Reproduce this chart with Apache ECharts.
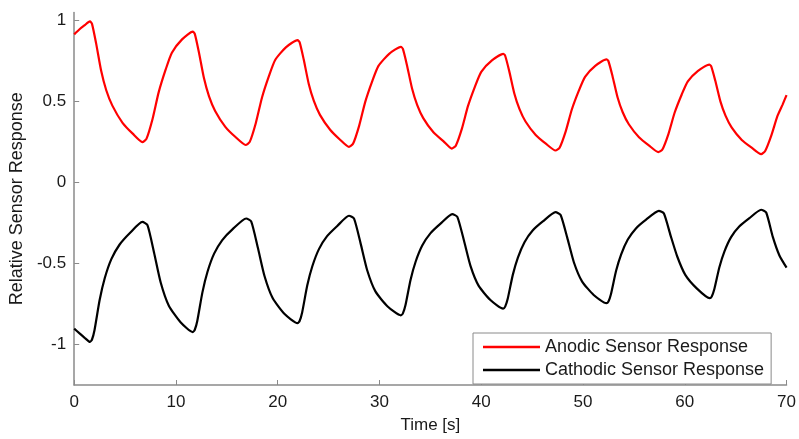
<!DOCTYPE html>
<html>
<head>
<meta charset="utf-8">
<script src="https://cdn.jsdelivr.net/npm/echarts@6/dist/echarts.min.js"></script>
<style>html,body{margin:0;padding:0;background:#fff;}#chart{width:799px;height:439px;}</style>
</head>
<body>
<div id="chart"></div>
<script>
var xTicks = [0, 10, 20, 30, 40, 50, 60, 70];
var yTicks = [-1, -0.5, 0, 0.5, 1];
var seriesNames = ['Anodic Sensor Response', 'Cathodic Sensor Response'];

var anodicTime = [
  0,0.5,1.0,1.55,1.75,2.15,2.65,3.15,3.75,4.75,5.75,6.7,7.1,7.7,8.3,9.0,9.6,10.6,11.65,
  11.85,12.25,12.75,13.25,13.85,14.85,15.85,16.85,17.25,17.85,18.45,19.15,19.75,20.8,21.95,
  22.15,22.55,23.05,23.55,24.15,25.15,26.1,27.0,27.4,28.0,28.6,29.3,29.9,30.95,32.1,
  32.3,32.7,33.2,33.7,34.3,35.3,36.3,37.1,37.5,38.1,38.7,39.4,40.0,41.05,42.15,
  42.35,42.75,43.25,43.75,44.35,45.35,46.35,47.3,47.7,48.3,48.9,49.6,50.2,51.2,52.3,
  52.5,52.9,53.4,53.9,54.5,55.5,56.5,57.4,57.8,58.4,59.0,59.7,60.3,61.3,62.4,
  62.6,63.0,63.5,64.0,64.6,65.6,66.6,67.5,67.9,68.5,69.1,69.6,70
];
var anodicValue = [
  0.915,0.945,0.97,0.995,0.98,0.861,0.69,0.57,0.475,0.369,0.302,0.25,0.27,0.393,0.557,0.70,0.802,0.884,0.932,
  0.918,0.806,0.645,0.532,0.442,0.344,0.281,0.232,0.251,0.368,0.524,0.66,0.757,0.835,0.88,
  0.867,0.761,0.609,0.504,0.418,0.326,0.266,0.22,0.239,0.35,0.498,0.628,0.72,0.795,0.838,
  0.825,0.725,0.581,0.48,0.398,0.31,0.254,0.21,0.228,0.333,0.473,0.596,0.684,0.754,0.795,
  0.783,0.688,0.55,0.455,0.377,0.294,0.24,0.198,0.215,0.316,0.451,0.569,0.653,0.721,0.76,
  0.749,0.657,0.525,0.434,0.36,0.28,0.228,0.188,0.204,0.301,0.431,0.544,0.625,0.69,0.728,
  0.717,0.628,0.501,0.413,0.341,0.263,0.214,0.175,0.195,0.29,0.41,0.48,0.54
];
var cathodicTime = [
  0,0.5,1.0,1.55,1.75,2.0,2.5,3.0,3.65,4.45,5.45,6.7,7.2,7.85,8.5,9.3,10.45,11.65,
  11.85,12.1,12.6,13.1,13.75,14.55,15.55,16.9,17.4,18.05,18.7,19.5,20.65,21.95,
  22.15,22.4,22.9,23.4,24.05,24.85,25.85,27.0,27.5,28.15,28.8,29.6,30.8,32.1,
  32.3,32.55,33.05,33.55,34.2,35.0,36.0,37.15,37.65,38.3,38.95,39.75,40.9,42.15,
  42.35,42.6,43.1,43.6,44.25,45.05,46.05,47.3,47.8,48.45,49.1,49.9,51.05,52.3,
  52.5,52.75,53.25,53.75,54.4,55.2,56.2,57.45,57.95,58.6,59.25,60.05,61.2,62.45,
  62.65,62.9,63.4,63.9,64.55,65.35,66.35,67.5,68.0,68.65,69.3,70
];
var cathodicValue = [
  -0.902,-0.93,-0.957,-0.984,-0.969,-0.91,-0.725,-0.591,-0.473,-0.384,-0.313,-0.243,-0.263,-0.433,-0.617,-0.76,-0.862,-0.923,
  -0.909,-0.853,-0.678,-0.551,-0.439,-0.355,-0.289,-0.222,-0.241,-0.403,-0.577,-0.713,-0.81,-0.868,
  -0.855,-0.802,-0.636,-0.517,-0.411,-0.331,-0.268,-0.205,-0.223,-0.377,-0.543,-0.672,-0.765,-0.82,
  -0.808,-0.758,-0.601,-0.489,-0.389,-0.314,-0.254,-0.195,-0.212,-0.358,-0.516,-0.638,-0.725,-0.778,
  -0.766,-0.718,-0.57,-0.463,-0.368,-0.296,-0.24,-0.183,-0.2,-0.34,-0.492,-0.61,-0.694,-0.745,
  -0.734,-0.688,-0.545,-0.443,-0.352,-0.283,-0.229,-0.175,-0.191,-0.326,-0.455,-0.57,-0.655,-0.714,
  -0.703,-0.659,-0.523,-0.425,-0.337,-0.272,-0.22,-0.168,-0.185,-0.335,-0.45,-0.525
];

function zip(t, v) { return t.map(function (x, i) { return [x, v[i]]; }); }

var chart = echarts.init(document.getElementById('chart'), null, {renderer: 'canvas'});
var font = 'Liberation Sans, Arial, sans-serif';
var axisColor = '#8a8a8a';
var textColor = '#1a1a1a';

chart.setOption({
  animation: false,
  backgroundColor: '#fff',
  grid: {left: 71, right: 12, top: 12.5, bottom: 49, containLabel: false},
  legend: {
    orient: 'vertical',
    left: 473,
    top: 333,
    padding: [5, 7, 5, 10],
    itemGap: 5,
    itemWidth: 57,
    itemHeight: 2.5,
    icon: 'rect',
    borderColor: '#8a8a8a',
    borderWidth: 1,
    borderRadius: 0,
    backgroundColor: '#fff',
    textStyle: {fontFamily: font, fontSize: 18, color: textColor},
    data: seriesNames
  },
  xAxis: {
    type: 'value',
    min: 0, max: 70, interval: 10,
    name: 'Time [s]',
    nameLocation: 'middle',
    nameGap: 32,
    nameTextStyle: {fontFamily: font, fontSize: 17, color: textColor},
    axisLine: {show: true, onZero: false, lineStyle: {color: axisColor, width: 1.5}},
    axisTick: {show: true, inside: true, length: 5, lineStyle: {color: axisColor}},
    axisLabel: {fontFamily: font, fontSize: 17, color: textColor, margin: 9},
    splitLine: {show: false}
  },
  yAxis: {
    type: 'value',
    min: -1.25, max: 1.05,
    name: 'Relative Sensor Response',
    nameLocation: 'middle',
    nameGap: 42,
    nameTextStyle: {fontFamily: font, fontSize: 18, color: textColor},
    axisLine: {show: true, onZero: false, lineStyle: {color: axisColor, width: 1.5}},
    axisTick: {show: true, inside: true, length: 5, lineStyle: {color: axisColor}, customValues: yTicks},
    axisLabel: {fontFamily: font, fontSize: 17, color: textColor, margin: 8, customValues: yTicks},
    splitLine: {show: false}
  },
  series: [
    {
      name: seriesNames[0], type: 'line', data: zip(anodicTime, anodicValue),
      showSymbol: false, symbol: 'none', smooth: 0.2,
      lineStyle: {color: '#ff0000', width: 2.2}, itemStyle: {color: '#ff0000'}
    },
    {
      name: seriesNames[1], type: 'line', data: zip(cathodicTime, cathodicValue),
      showSymbol: false, symbol: 'none', smooth: 0.2,
      lineStyle: {color: '#000000', width: 2.2}, itemStyle: {color: '#000000'}
    }
  ]
});
</script>
</body>
</html>
